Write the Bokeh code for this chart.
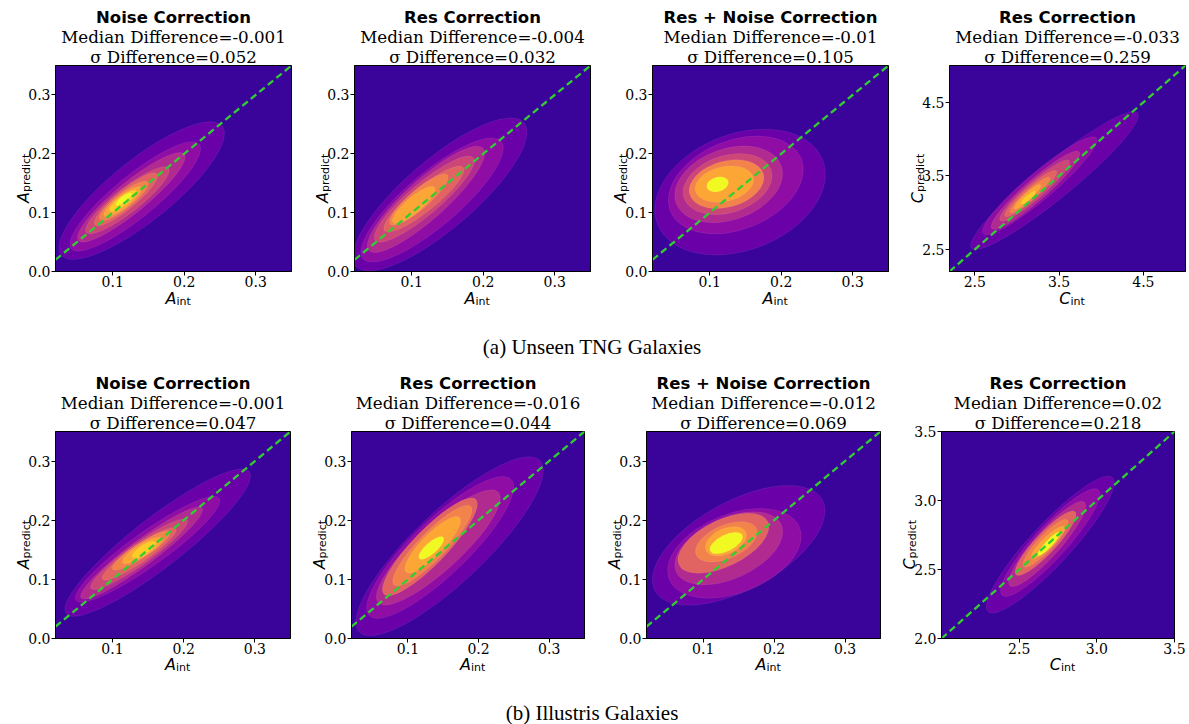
import math
from bokeh.plotting import figure
from bokeh.models import Title, Label, FixedTicker, PrintfTickFormatter, Div, Range1d, ColumnDataSource
from bokeh.layouts import column, row
from bokeh.embed import file_html
from bokeh.resources import INLINE

# ---------------- data ----------------
panel_titles = ["Noise Correction", "Res Correction", "Res + Noise Correction", "Res Correction",
                "Noise Correction", "Res Correction", "Res + Noise Correction", "Res Correction"]
median_diff = ["-0.001", "-0.004", "-0.01", "-0.033", "-0.001", "-0.016", "-0.012", "0.02"]
sigma_diff = ["0.052", "0.032", "0.105", "0.259", "0.047", "0.044", "0.069", "0.218"]
symbols = ["A", "A", "A", "C", "A", "A", "A", "C"]
x_sub = "int"
y_sub = "predict"
captions = ["(a) Unseen TNG Galaxies", "(b) Illustris Galaxies"]

a_x_range = [0.02, 0.35]
a_y_range = [0.0, 0.35]
c_tng_range = [2.2, 5.0]
c_ill_range = [2.0, 3.5]
a_xticks = [0.1, 0.2, 0.3]
a_yticks = [0.0, 0.1, 0.2, 0.3]
c_tng_ticks = [2.5, 3.5, 4.5]
c_ill_xticks = [2.5, 3.0, 3.5]
c_ill_yticks = [2.0, 2.5, 3.0, 3.5]

# density contour levels, outer -> inner: (x_low_tip, y_low_tip, x_high_tip, y_high_tip, vertical thickness)
tng_noise = [(0.028, 0.027, 0.253, 0.248, 0.130), (0.042, 0.038, 0.221, 0.217, 0.090),
             (0.052, 0.052, 0.200, 0.200, 0.066), (0.063, 0.066, 0.178, 0.176, 0.052),
             (0.075, 0.079, 0.162, 0.166, 0.041), (0.082, 0.088, 0.149, 0.152, 0.033),
             (0.088, 0.094, 0.140, 0.143, 0.026), (0.096, 0.103, 0.133, 0.137, 0.019),
             (0.105, 0.113, 0.126, 0.133, 0.012)]
tng_noise_lv = [0, 1, 2, 3, 4, 5, 6, 7, 8]
tng_res = [(0.022, 0.008, 0.257, 0.254, 0.150), (0.032, 0.021, 0.225, 0.222, 0.115),
           (0.040, 0.035, 0.200, 0.210, 0.088), (0.049, 0.052, 0.186, 0.194, 0.068),
           (0.062, 0.069, 0.172, 0.177, 0.052), (0.070, 0.080, 0.150, 0.164, 0.042),
           (0.074, 0.083, 0.132, 0.143, 0.034)]
tng_res_lv = [0, 1, 2, 3, 4, 5, 6]
tng_resnoise = [(0.027, 0.080, 0.258, 0.190, 0.205), (0.045, 0.102, 0.228, 0.192, 0.158),
                (0.053, 0.116, 0.200, 0.180, 0.125), (0.064, 0.125, 0.186, 0.172, 0.100),
                (0.072, 0.131, 0.175, 0.166, 0.080), (0.080, 0.137, 0.161, 0.160, 0.060),
                (0.096, 0.143, 0.126, 0.153, 0.025)]
tng_resnoise_lv = [0, 1, 2, 3, 5, 6, 8]
tng_conc = [(2.46, 2.51, 4.43, 4.36, 0.62), (2.60, 2.71, 3.94, 4.02, 0.48),
            (2.70, 2.78, 3.74, 3.83, 0.38), (2.80, 2.89, 3.62, 3.71, 0.30),
            (2.86, 2.95, 3.47, 3.57, 0.23), (2.92, 3.00, 3.39, 3.48, 0.18),
            (2.97, 3.05, 3.28, 3.38, 0.13), (3.05, 3.12, 3.22, 3.29, 0.08)]
tng_conc_lv = [0, 1, 2, 3, 4, 5, 6, 7]
ill_noise = [(0.035, 0.041, 0.292, 0.283, 0.105), (0.049, 0.064, 0.250, 0.238, 0.070),
             (0.056, 0.068, 0.226, 0.221, 0.053), (0.070, 0.084, 0.205, 0.201, 0.044),
             (0.086, 0.100, 0.189, 0.186, 0.035), (0.100, 0.117, 0.180, 0.180, 0.029),
             (0.114, 0.128, 0.170, 0.170, 0.024), (0.128, 0.137, 0.160, 0.163, 0.018)]
ill_noise_lv = [0, 1, 2, 3, 4, 5, 6, 7]
ill_res = [(0.031, 0.010, 0.287, 0.302, 0.160), (0.045, 0.038, 0.246, 0.270, 0.125),
           (0.058, 0.060, 0.228, 0.248, 0.100), (0.066, 0.074, 0.196, 0.236, 0.080),
           (0.080, 0.090, 0.189, 0.224, 0.064), (0.097, 0.112, 0.173, 0.205, 0.050),
           (0.116, 0.135, 0.150, 0.171, 0.024)]
ill_res_lv = [0, 1, 2, 4, 5, 6, 8]
ill_resnoise = [(0.032, 0.080, 0.268, 0.235, 0.165), (0.052, 0.100, 0.236, 0.188, 0.140),
                (0.062, 0.112, 0.210, 0.193, 0.110), (0.066, 0.124, 0.191, 0.198, 0.085),
                (0.090, 0.141, 0.175, 0.186, 0.060), (0.104, 0.149, 0.160, 0.180, 0.045),
                (0.110, 0.148, 0.155, 0.175, 0.030)]
ill_resnoise_lv = [0, 1, 2, 4, 5, 6, 8]
ill_conc = [(2.30, 2.19, 3.10, 3.17, 0.42), (2.39, 2.31, 3.01, 3.08, 0.34),
            (2.44, 2.38, 2.92, 2.99, 0.27), (2.48, 2.46, 2.86, 2.92, 0.21),
            (2.53, 2.52, 2.81, 2.86, 0.16), (2.58, 2.58, 2.79, 2.81, 0.11),
            (2.62, 2.60, 2.76, 2.77, 0.07)]
ill_conc_lv = [0, 1, 2, 4, 5, 6, 8]

# ---------------- styles ----------------
BG = "#3a049a"
LEVEL_COLORS = ["#6a00a8", "#8f0da4", "#b12a90", "#cc4778", "#e16462",
                "#f2844b", "#fca636", "#fcce25", "#f0f921"]
DIAG = "#32cd32"

panel_levels = [tng_noise, tng_res, tng_resnoise, tng_conc, ill_noise, ill_res, ill_resnoise, ill_conc]
panel_lv = [tng_noise_lv, tng_res_lv, tng_resnoise_lv, tng_conc_lv,
            ill_noise_lv, ill_res_lv, ill_resnoise_lv, ill_conc_lv]
panel_xr = [a_x_range] * 3 + [c_tng_range] + [a_x_range] * 3 + [c_ill_range]
panel_yr = [a_y_range] * 3 + [c_tng_range] + [a_y_range] * 3 + [c_ill_range]
panel_xt = [a_xticks] * 3 + [c_tng_ticks] + [a_xticks] * 3 + [c_ill_xticks]
panel_yt = [a_yticks] * 3 + [c_tng_ticks] + [a_yticks] * 3 + [c_ill_yticks]

# layout geometry: per panel (y-label strip width, frame width, right border)
LEFT = 28
OV = 42         # y-label strip extends under the transparent left border of its panel
geom_row1 = [(25, 238, 10), (23, 238, 9), (23, 238, 8), (23, 238, 4)]
geom_row2 = [(25, 237, 8), (23, 235, 9), (23, 236, 8), (23, 235, 15)]
row1_vert = (65, 206, 22)
row2_vert = (63, 207, 22)
XSTRIP_H = 28
XSTRIP_OVERLAP = 11
PAGE_W = 1189


def ellipse_source(levels, lv, xr, yr, fw, fh):
    sx = fw / (xr[1] - xr[0])
    sy = fh / (yr[1] - yr[0])
    d = dict(x=[], y=[], w=[], h=[], ang=[], c=[])
    for (x0, y0, x1, y1, t), k in zip(levels, lv):
        dx = (x1 - x0) * sx
        dy = (y1 - y0) * sy
        a = math.hypot(dx, dy) / 2
        th = math.atan2(dy, dx)
        hv = t * sy / 2
        b = math.cos(th) / math.sqrt(1.0 / hv ** 2 - math.sin(th) ** 2 / a ** 2)
        d["x"].append((x0 + x1) / 2)
        d["y"].append((y0 + y1) / 2)
        d["w"].append(2 * a / sx)
        d["h"].append(2 * b / sy)
        d["ang"].append(th)
        d["c"].append(LEVEL_COLORS[k])
    return ColumnDataSource(d)


def blank_strip(w, h, **kw):
    s = figure(width=w, height=h, x_range=Range1d(0, w), y_range=Range1d(0, h),
               output_backend="svg", toolbar_location=None, title=None,
               min_border=0, min_border_left=0, min_border_right=0,
               min_border_top=0, min_border_bottom=0, **kw)
    s.axis.visible = False
    s.grid.visible = False
    s.outline_line_color = None
    s.background_fill_alpha = 0
    s.border_fill_alpha = 0
    return s


def make_panel(i, fw, right, top, fh, bottom):
    xr, yr = panel_xr[i], panel_yr[i]
    p = figure(width=LEFT + fw + right, height=top + fh + bottom,
               x_range=Range1d(xr[0], xr[1]), y_range=Range1d(yr[0], yr[1]),
               output_backend="svg", toolbar_location=None, title=None,
               min_border_left=LEFT, min_border_right=right,
               min_border_top=top, min_border_bottom=bottom,
               margin=(0, 0, 0, -OV))
    p.background_fill_color = BG
    p.border_fill_alpha = 0
    p.outline_line_color = "black"
    p.outline_line_width = 1
    p.outline_line_alpha = 1.0
    p.xgrid.visible = False
    p.ygrid.visible = False

    src = ellipse_source(panel_levels[i], panel_lv[i], xr, yr, fw, fh)
    p.ellipse(x="x", y="y", width="w", height="h", angle="ang", source=src,
              fill_color="c", line_color="white", line_alpha=0.15, line_width=0.5)
    p.line(x=[xr[0], xr[1]], y=[xr[0], xr[1]], line_color=DIAG, line_width=2.3,
           line_dash="7 4")

    for ax, ticks in ((p.xaxis, panel_xt[i]), (p.yaxis, panel_yt[i])):
        ax.ticker = FixedTicker(ticks=ticks)
        ax.formatter = PrintfTickFormatter(format="%.1f")
        ax.axis_line_color = "black"
        ax.major_tick_line_color = "black"
        ax.major_tick_out = 4
        ax.major_tick_in = 0
        ax.minor_tick_out = 0
        ax.minor_tick_in = 0
        ax.major_label_text_font = "DejaVu Serif"
        ax.major_label_text_font_size = "14px"
        ax.major_label_text_color = "black"
    p.xaxis.major_label_standoff = 0
    p.yaxis.major_label_standoff = 1

    # titles (added nearest-first)
    p.add_layout(Title(text="σ Difference=" + sigma_diff[i], align="center",
                       text_font="DejaVu Serif", text_font_size="16.7px", text_color="black",
                       text_font_style="normal", standoff=-2), "above")
    p.add_layout(Title(text="Median Difference=" + median_diff[i], align="center",
                       text_font="DejaVu Serif", text_font_size="16.7px", text_color="black",
                       text_font_style="normal", standoff=-2), "above")
    p.add_layout(Title(text=panel_titles[i], align="center",
                       text_font="DejaVu Sans", text_font_size="16.5px", text_color="black",
                       text_font_style="bold", standoff=-2), "above")
    return p


def ylabel_strip(i, sw, h, yend):
    s = blank_strip(sw + OV, h)
    s.add_layout(Label(x=sw - 2, y=yend, text=symbols[i], angle=math.pi / 2,
                       text_font="DejaVu Sans", text_font_style="italic",
                       text_font_size="16px", text_align="right", text_baseline="alphabetic",
                       text_color="black"))
    s.add_layout(Label(x=sw + 0.5, y=yend, text=y_sub, angle=math.pi / 2,
                       text_font="DejaVu Sans", text_font_size="11px",
                       text_align="left", text_baseline="alphabetic", text_color="black"))
    return s


def build_row(start, geom, vert, yend):
    top, fh, bottom = vert
    items = []
    centers = []
    xpos = 0
    for k, (sw, fw, right) in enumerate(geom):
        items.append(ylabel_strip(start + k, sw, top + fh + bottom, yend))
        items.append(make_panel(start + k, fw, right, top, fh, bottom))
        centers.append(xpos + sw + LEFT + fw / 2)
        xpos += sw + LEFT + fw + right
    return items, centers


def xlabel_strip(start, centers, base):
    s = blank_strip(PAGE_W, XSTRIP_H, margin=(-XSTRIP_OVERLAP, 0, 0, 0))
    for k, c in enumerate(centers):
        s.add_layout(Label(x=c + 4, y=base, text=symbols[start + k],
                           text_font="DejaVu Sans", text_font_style="italic",
                           text_font_size="16px", text_align="right", text_baseline="alphabetic",
                           text_color="black"))
        s.add_layout(Label(x=c + 4, y=base - 3, text=x_sub,
                           text_font="DejaVu Sans", text_font_size="11px",
                           text_align="left", text_baseline="alphabetic", text_color="black"))
    return s


def caption_div(text, width, height, top_off):
    html = ('<div style="position:relative;top:%dpx;width:%dpx;text-align:center;'
            'font-family:\'Liberation Serif\',serif;font-size:21px;line-height:21px;'
            'color:black;white-space:nowrap;">%s</div>' % (top_off, width - 5, text))
    return Div(text=html, width=width, height=height, margin=0,
               styles={"overflow": "visible"})


items1, centers1 = build_row(0, geom_row1, row1_vert, 113)
items2, centers2 = build_row(4, geom_row2, row2_vert, 113)

layout = column(row(*items1, spacing=0),
                xlabel_strip(0, centers1, 12),
                caption_div(captions[0], PAGE_W, 58, 27),
                row(*items2, spacing=0),
                xlabel_strip(4, centers2, 13),
                caption_div(captions[1], PAGE_W, 47, 26),
                spacing=0)

open("out.html", "w").write(file_html(layout, INLINE))
